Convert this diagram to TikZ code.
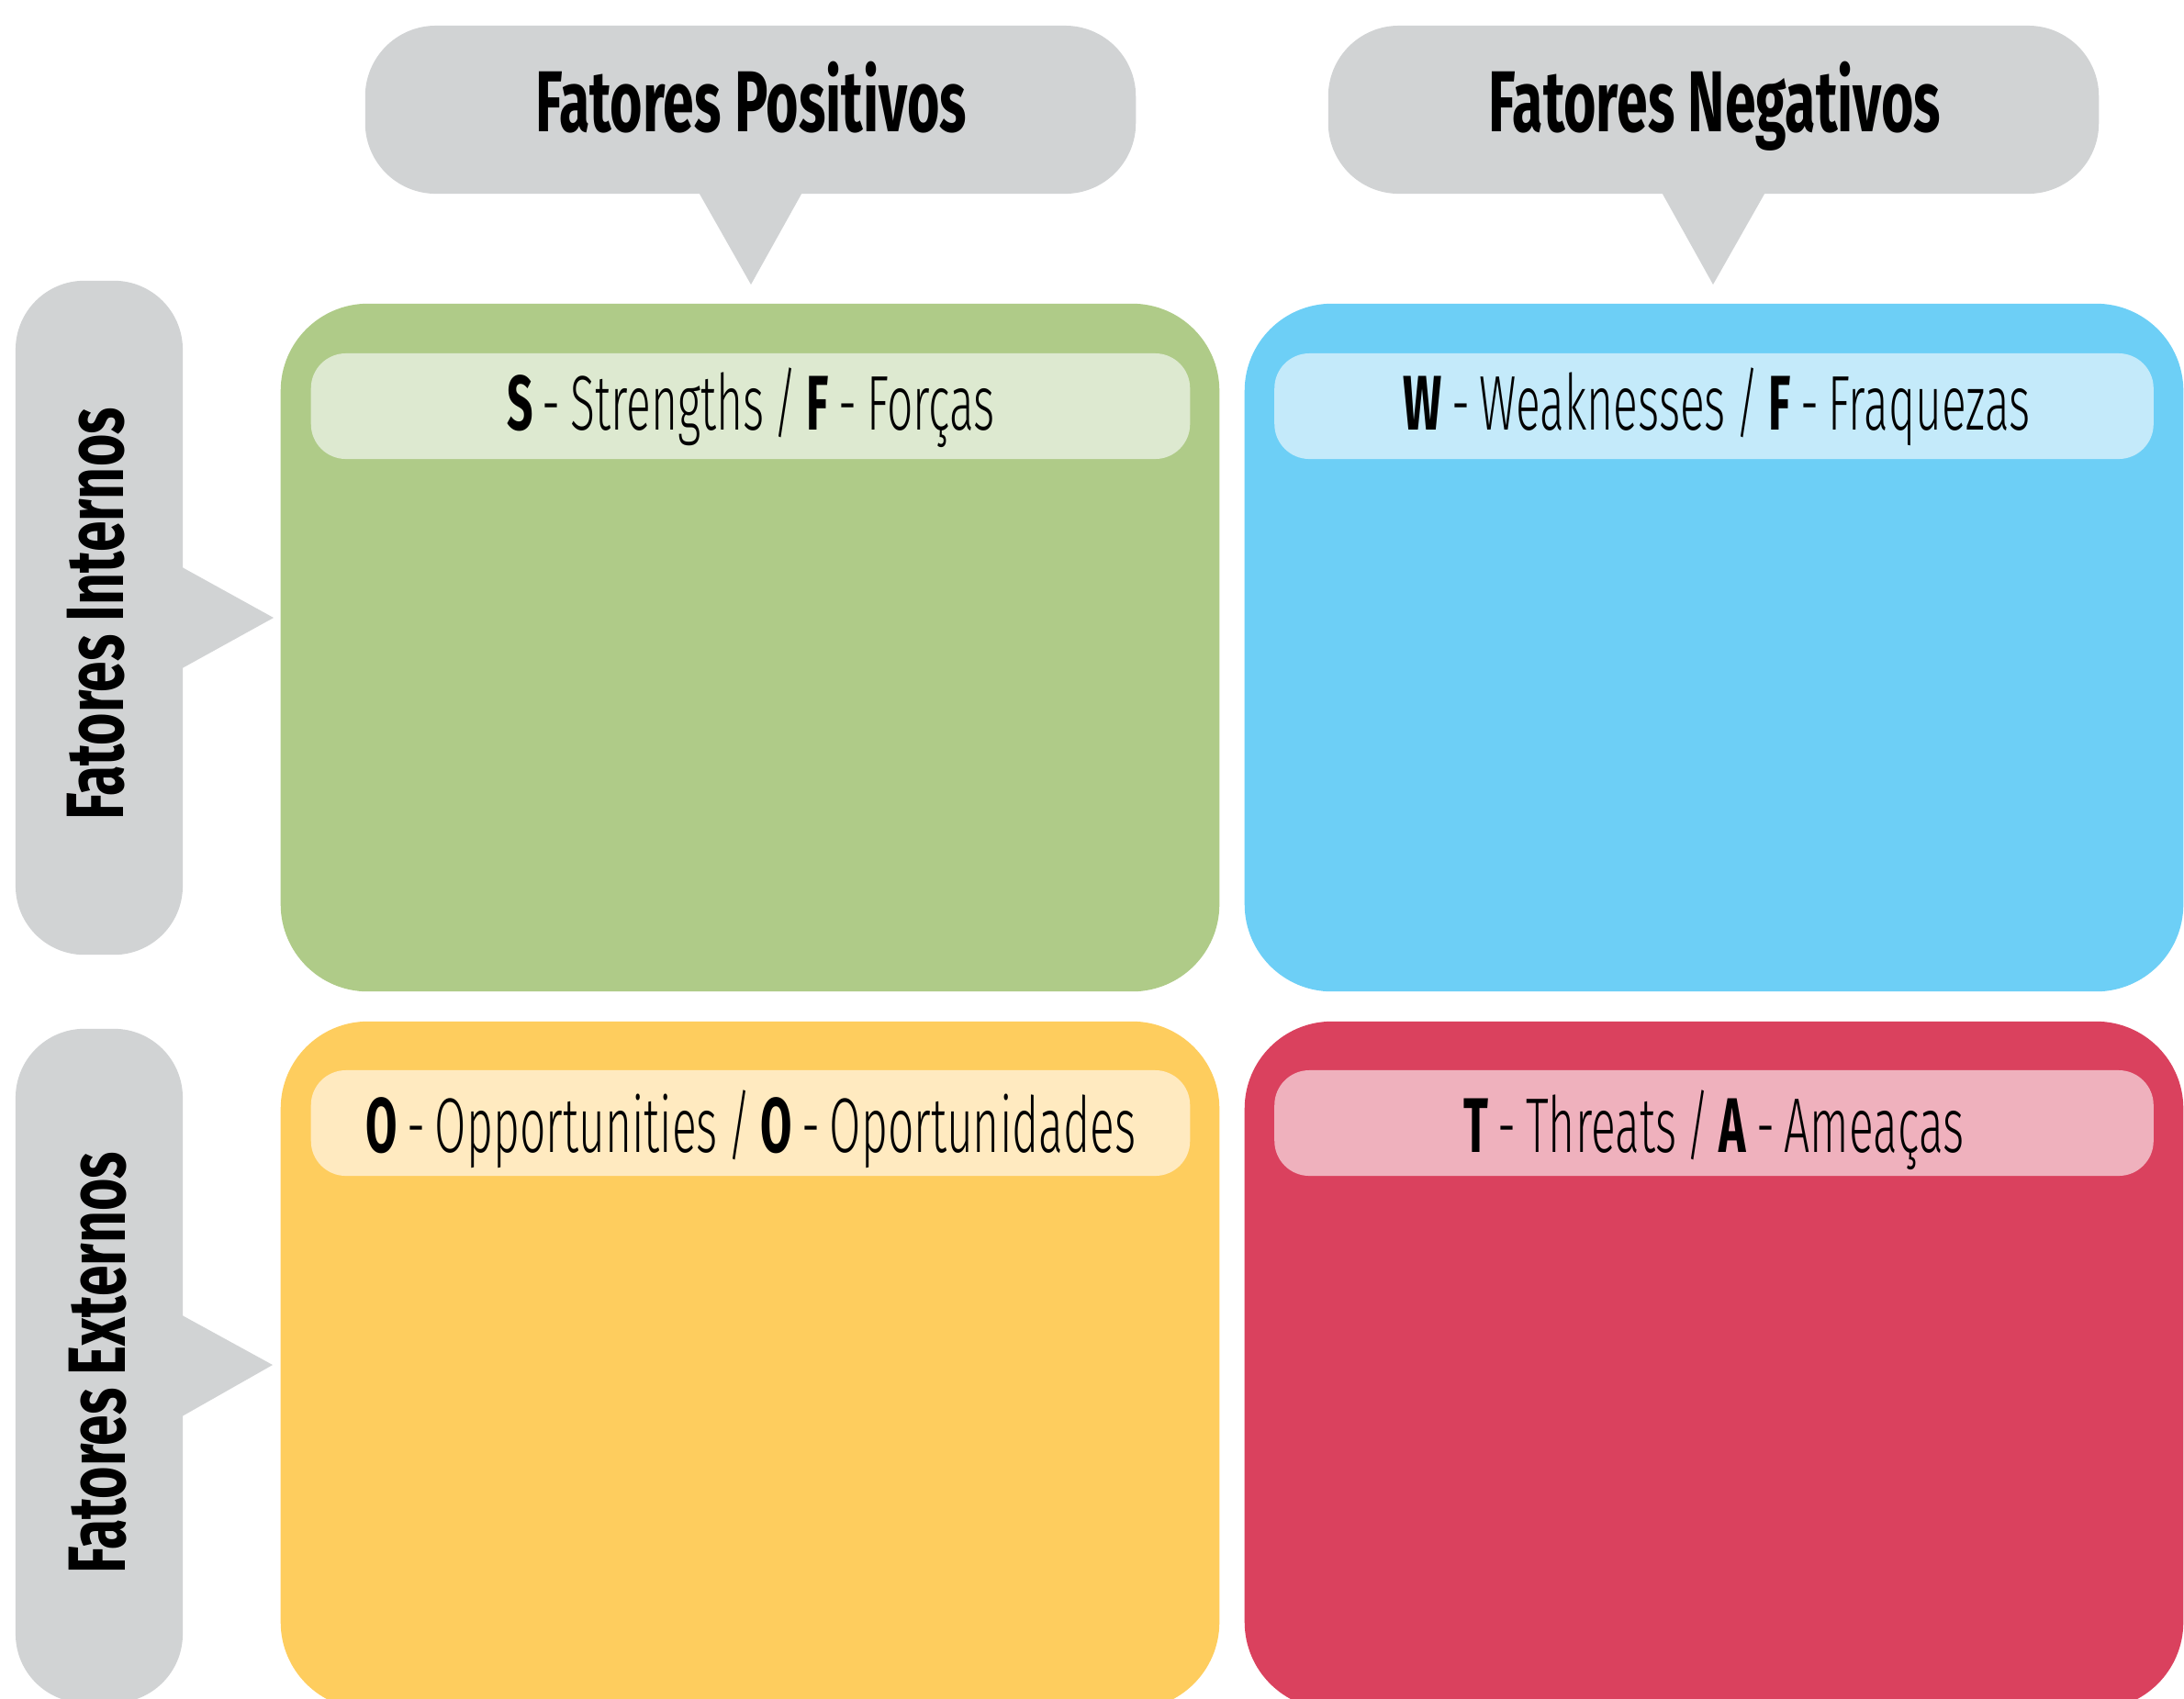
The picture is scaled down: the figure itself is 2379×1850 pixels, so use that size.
\documentclass[tikz,border=0pt]{standalone}
\usepackage{fontspec}
\newfontfamily\headfont[FakeStretch=0.645]{Fira Sans}
\newfontfamily\sidefont[FakeStretch=0.685]{Fira Sans}
\newfontfamily\labfont[FakeStretch=0.59, WordSpace=0.75, UprightFont={* Light}, BoldFont={* Bold}]{Fira Sans}
\definecolor{cgray}{HTML}{D1D3D4}
\definecolor{qgreen}{HTML}{AFCB88}
\definecolor{tgreen}{HTML}{DDE9D0}
\definecolor{qblue}{HTML}{6DCFF6}
\definecolor{tblue}{HTML}{C4EAFA}
\definecolor{qyellow}{HTML}{FECD5E}
\definecolor{tyellow}{HTML}{FFEAC0}
\definecolor{qred}{HTML}{DA415E}
\definecolor{tred}{HTML}{EFB1BD}
\begin{document}
\begin{tikzpicture}[x=0.01cm, y=-0.01cm,
  topcall/.style={fill=cgray, rounded corners=0.77cm, inner sep=0pt, minimum width=8.39cm, minimum height=1.83cm},
  sidecall/.style={fill=cgray, rounded corners=0.75cm, inner sep=0pt, minimum width=1.82cm, minimum height=7.34cm},
  quad/.style={rounded corners=0.95cm, inner sep=0pt, minimum width=10.22cm, minimum height=7.49cm},
  tag/.style={rounded corners=0.38cm, inner sep=0pt, minimum width=9.57cm, minimum height=1.15cm},
  headtext/.style={anchor=base, inner sep=0pt, font=\headfont\bfseries\fontsize{26.8pt}{30pt}\selectfont},
  sidetext/.style={anchor=base, rotate=90, inner sep=0pt, font=\sidefont\bfseries\fontsize{25.2pt}{28pt}\selectfont},
  tagtext/.style={anchor=base, inner sep=0pt, font=\labfont\fontsize{24pt}{27pt}\selectfont}]
\path[use as bounding box] (0,0) rectangle (2379,1850);
\clip (0,0) rectangle (2379,1850);

% top callouts
\node[topcall] (tp1) at (817.5,119.5) {};
\coordinate (tip1) at (818,310);
\fill[cgray] ([xshift=-0.58cm, yshift=0.05cm]tp1.south) -- (tip1) -- ([xshift=0.58cm, yshift=0.05cm]tp1.south) -- cycle;
\node[headtext] (tp1text) at (818,143) {Fatores Positivos};

\node[topcall] (tp2) at (1866.5,119.5) {};
\coordinate (tip2) at (1866,310);
\fill[cgray] ([xshift=-0.58cm, yshift=0.05cm]tp2.south) -- (tip2) -- ([xshift=0.58cm, yshift=0.05cm]tp2.south) -- cycle;
\node[headtext] (tp2text) at (1868,143) {Fatores Negativos};

% side callouts
\node[sidecall] (lc1) at (108,673) {};
\coordinate (tip3) at (298,673);
\fill[cgray] ([yshift=0.57cm, xshift=-0.05cm]lc1.east) -- (tip3) -- ([yshift=-0.57cm, xshift=-0.05cm]lc1.east) -- cycle;
\node[sidetext] (lc1text) at (134,669) {Fatores Internos};

\node[sidecall] (lc2) at (108,1488) {};
\coordinate (tip4) at (297,1487);
\fill[cgray] ([yshift=0.57cm, xshift=-0.05cm]lc2.east) -- (tip4) -- ([yshift=-0.57cm, xshift=-0.05cm]lc2.east) -- cycle;
\node[sidetext] (lc2text) at (136,1485) {Fatores Externos};

% quadrants
\node[quad, fill=qgreen] (qs) at (817,705.5) {};
\node[quad, fill=qblue] (qw) at (1867,705.5) {};
\node[quad, fill=qyellow] (qo) at (817,1487.5) {};
\node[quad, fill=qred] (qt) at (1867,1487.5) {};

% tags
\node[tag, fill=tgreen] (ts) at (817.5,442.5) {};
\node[tag, fill=tblue] (tw) at (1867,442.5) {};
\node[tag, fill=tyellow] (to) at (817.5,1223.5) {};
\node[tag, fill=tred] (tt) at (1867,1223.5) {};

\node[tagtext] (tstext) at (818,468) {\textbf{S} - Strengths / \textbf{F} - Forças};
\node[tagtext] (twtext) at (1870,468) {\textbf{W} - Weaknesses / \textbf{F} - Fraquezas};
\node[tagtext] (totext) at (818,1255) {\textbf{O} - Opportunities / \textbf{O} - Oportunidades};
\node[tagtext] (tttext) at (1867,1255) {\textbf{T} - Threats / \textbf{A} - Ameaças};
\end{tikzpicture}
\end{document}
